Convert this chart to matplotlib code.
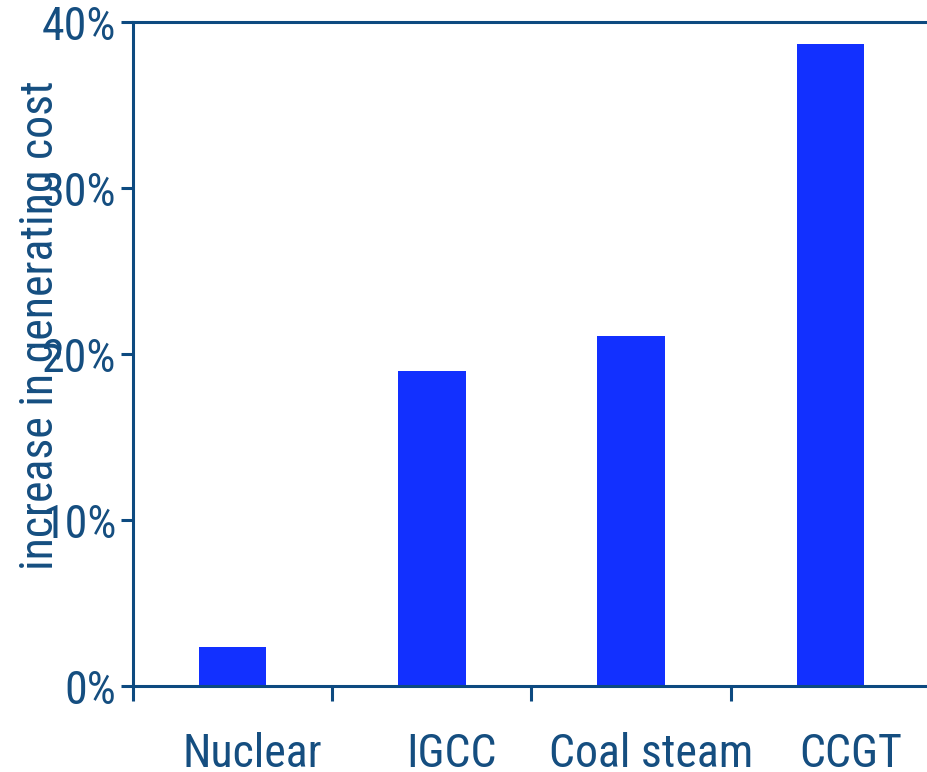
import matplotlib
matplotlib.use("Agg")
import matplotlib.pyplot as plt
from matplotlib.transforms import ScaledTranslation

plt.rcParams['font.family'] = ['Roboto Condensed', 'Liberation Sans', 'DejaVu Sans']

categories = ["Nuclear", "IGCC", "Coal steam", "CCGT"]
cost_increase = [2.35, 19.0, 21.1, 38.7]
y_ticks = [0, 10, 20, 30, 40]
y_tick_labels = ["0%", "10%", "20%", "30%", "40%"]

bar_color = "#1230ff"
axis_color = "#0d4a80"
text_color = "#154e80"

fig = plt.figure(figsize=(9.28, 7.72), dpi=100)
ax = fig.add_axes([133 / 928, 86 / 772, 797 / 928, 664 / 772])

x = list(range(len(categories)))
ax.bar(x, cost_increase, width=0.34, color=bar_color, zorder=1)

ax.set_xlim(-0.5, len(categories) - 0.5)
ax.set_ylim(0, 40)

for side in ("left", "bottom", "top"):
    ax.spines[side].set_color(axis_color)
    ax.spines[side].set_linewidth(2.2)
    ax.spines[side].set_zorder(3)
ax.spines["right"].set_visible(False)

ax.set_yticks(y_ticks)
ax.set_yticklabels(y_tick_labels, fontsize=33, color=text_color)
ax.tick_params(axis="y", length=9, width=2.2, color=axis_color, pad=3, direction="out")

ax.set_xticks(x)
ax.set_xticklabels(categories, fontsize=33, color=text_color)
ax.tick_params(axis="x", which="major", length=0, pad=33)
ax.set_xticks([i - 0.5 for i in range(len(categories) + 1)], minor=True)
ax.tick_params(axis="x", which="minor", length=11, width=2.2, color=axis_color, direction="out")

shift = ScaledTranslation(20 / 100, 0, fig.dpi_scale_trans)
for lbl in ax.get_xticklabels():
    lbl.set_transform(lbl.get_transform() + shift)

fig.text(40 / 928, 1 - 325 / 772, "increase in generating cost", rotation=90,
         ha="center", va="center", fontsize=33, color=text_color)

fig.savefig("out.png", dpi=100)
